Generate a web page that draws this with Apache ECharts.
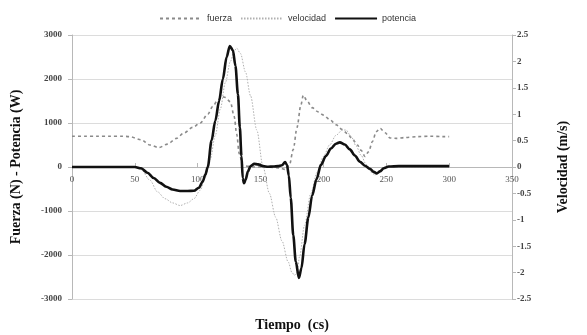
<!DOCTYPE html>
<html>
<head>
<meta charset="utf-8">
<script src="https://cdn.jsdelivr.net/npm/echarts@6/dist/echarts.min.js"></script>
<style>
  html, body { margin: 0; padding: 0; background: #fff; }
  #chart { width: 587px; height: 335px; }
</style>
</head>
<body>
<div id="chart"></div>
<script>
// tiempo (cs) y valores
const fuerzaT = [0, 10, 20, 30, 40, 46, 55, 62, 69, 76, 83, 89, 96, 102, 108, 112, 116, 119, 122, 126, 129, 131, 133, 136, 145, 155, 165, 170, 173, 176, 179, 182, 184, 187, 191, 196, 200, 205, 210, 215, 219, 223, 227, 230, 233, 236, 239, 242, 245, 249, 253, 258, 265, 275, 285, 295, 300];
const fuerzaV = [700, 700, 700, 700, 700, 690, 620, 500, 440, 520, 650, 770, 900, 1000, 1200, 1380, 1520, 1600, 1580, 1480, 1150, 750, 300, 30, 0, 0, -20, -60, 50, 400, 900, 1400, 1630, 1500, 1350, 1250, 1180, 1080, 960, 850, 760, 640, 500, 380, 240, 350, 580, 800, 880, 780, 660, 650, 670, 690, 700, 690, 690];

const velocidadT = [0, 20, 40, 50, 55, 62, 68, 74, 80, 86, 92, 97, 102, 106, 110, 114, 118, 122, 126, 129, 131, 134, 138, 142, 147, 152, 157, 162, 167, 172, 175, 177, 179, 181, 185, 190, 195, 200, 205, 210, 215, 218, 222, 226, 230, 234, 238, 241, 244, 248, 255, 270, 300];
const velocidadV = [0, 0, 0, 0, -0.05, -0.25, -0.47, -0.6, -0.68, -0.73, -0.68, -0.6, -0.44, -0.2, 0.15, 0.6, 1.1, 1.6, 2.0, 2.2, 2.25, 2.15, 1.8, 1.35, 0.7, 0, -0.5, -0.95, -1.4, -1.8, -2.0, -2.05, -2.0, -1.7, -1.1, -0.5, -0.1, 0.2, 0.42, 0.6, 0.7, 0.7, 0.58, 0.4, 0.22, 0.05, -0.1, -0.15, -0.1, 0, 0, 0, 0];

const potenciaT = [0, 20, 40, 50, 55, 60, 65, 70, 75, 80, 86, 92, 97, 101, 104, 106, 108, 111, 114, 117, 120, 123, 125.5, 128, 130, 132, 133.5, 134.8, 135.8, 136.8, 138, 140, 142, 145, 148, 152, 156, 160, 164, 167, 169.5, 171, 172.5, 174, 176, 178, 180.5, 182.5, 185, 188, 191, 194.5, 198, 202, 206, 210, 213, 217, 221, 225, 229, 233, 237, 240, 242.5, 245, 248, 252, 260, 280, 300];
const potenciaV = [0, 0, 0, 0, -30, -130, -250, -360, -450, -510, -545, -545, -540, -470, -330, -180, 0, 600, 1050, 1500, 2000, 2500, 2750, 2650, 2300, 1650, 900, 250, -250, -370, -300, -100, 20, 70, 60, 20, 5, 10, 20, 40, 110, 50, -200, -700, -1550, -2150, -2520, -2300, -1750, -1150, -650, -280, 50, 250, 420, 530, 560, 510, 400, 260, 120, 30, -40, -110, -145, -100, -30, 10, 20, 20, 20];

const pair = (t, v) => t.map((x, i) => [x, v[i]]);

const serif = 'Liberation Serif';
const axisGray = '#b8b8b8';

let chart = echarts.init(document.getElementById('chart'));
chart.setOption({
    animation: false,
    backgroundColor: '#fff',
    grid: { left: 72, right: 75, top: 35, bottom: 36, outerBoundsMode: 'none', containLabel: false },
    legend: {
        top: 9,
        left: 154,
        itemWidth: 42,
        itemHeight: 8,
        itemGap: 8,
        itemStyle: { opacity: 0 },
        textStyle: { fontFamily: 'Liberation Sans', fontSize: 9, color: '#333' },
        data: ['fuerza', 'velocidad', 'potencia']
    },
    xAxis: {
        type: 'value',
        min: 0, max: 350, interval: 50,
        position: 'bottom',
        offset: -132, // la linea del eje pasa por el cero
        name: 'Tiempo  (cs)',
        nameLocation: 'middle',
        nameGap: 151,
        nameTextStyle: { fontFamily: serif, fontWeight: 'bold', fontSize: 14, color: '#111' },
        axisLine: { onZero: false, lineStyle: { color: axisGray } },
        axisTick: { show: true, inside: true, length: 4, lineStyle: { color: axisGray } },
        axisLabel: { fontFamily: serif, fontSize: 9, color: '#555', margin: 8 },
        splitLine: { show: false }
    },
    yAxis: [{
        type: 'value',
        min: -3000, max: 3000, interval: 1000,
        name: 'Fuerza (N) - Potencia (W)',
        nameLocation: 'middle',
        nameGap: 49,
        nameTextStyle: { fontFamily: serif, fontWeight: 'bold', fontSize: 14, color: '#111' },
        axisLine: { show: true, onZero: false, lineStyle: { color: axisGray } },
        axisTick: { show: true, length: 4, lineStyle: { color: axisGray } },
        axisLabel: { fontFamily: serif, fontWeight: 'bold', fontSize: 9, color: '#444', margin: 10, formatter: v => String(v) },
        splitLine: { lineStyle: { color: '#dcdcdc', width: 1 } }
    }, {
        type: 'value',
        min: -2.5, max: 2.5, interval: 0.5,
        name: 'Velocidad (m/s)',
        nameLocation: 'middle',
        nameGap: 44,
        nameRotate: 90,
        nameTextStyle: { fontFamily: serif, fontWeight: 'bold', fontSize: 14, color: '#111' },
        axisLine: { show: true, onZero: false, lineStyle: { color: axisGray } },
        axisTick: { show: true, length: 4, lineStyle: { color: axisGray } },
        axisLabel: { fontFamily: serif, fontWeight: 'bold', fontSize: 9, color: '#444', margin: 5, formatter: v => String(v) },
        splitLine: { show: false }
    }],
    series: [{
        name: 'fuerza',
        type: 'line',
        yAxisIndex: 0,
        symbol: 'none',
        smooth: 0.3,
        smoothMonotone: 'x',
        lineStyle: { color: '#8a8a8a', width: 1.6, type: [3, 3] },
        itemStyle: { color: '#8a8a8a' },
        data: pair(fuerzaT, fuerzaV)
    }, {
        name: 'velocidad',
        type: 'line',
        yAxisIndex: 1,
        symbol: 'none',
        smooth: 0.3,
        smoothMonotone: 'x',
        lineStyle: { color: '#b0b0b0', width: 1, type: [1.5, 1.5] },
        itemStyle: { color: '#b0b0b0' },
        data: pair(velocidadT, velocidadV)
    }, {
        name: 'potencia',
        type: 'line',
        yAxisIndex: 0,
        symbol: 'none',
        smooth: 0.3,
        smoothMonotone: 'x',
        lineStyle: { color: '#111', width: 2.6 },
        itemStyle: { color: '#111' },
        data: pair(potenciaT, potenciaV)
    }]
});
</script>
</body>
</html>
